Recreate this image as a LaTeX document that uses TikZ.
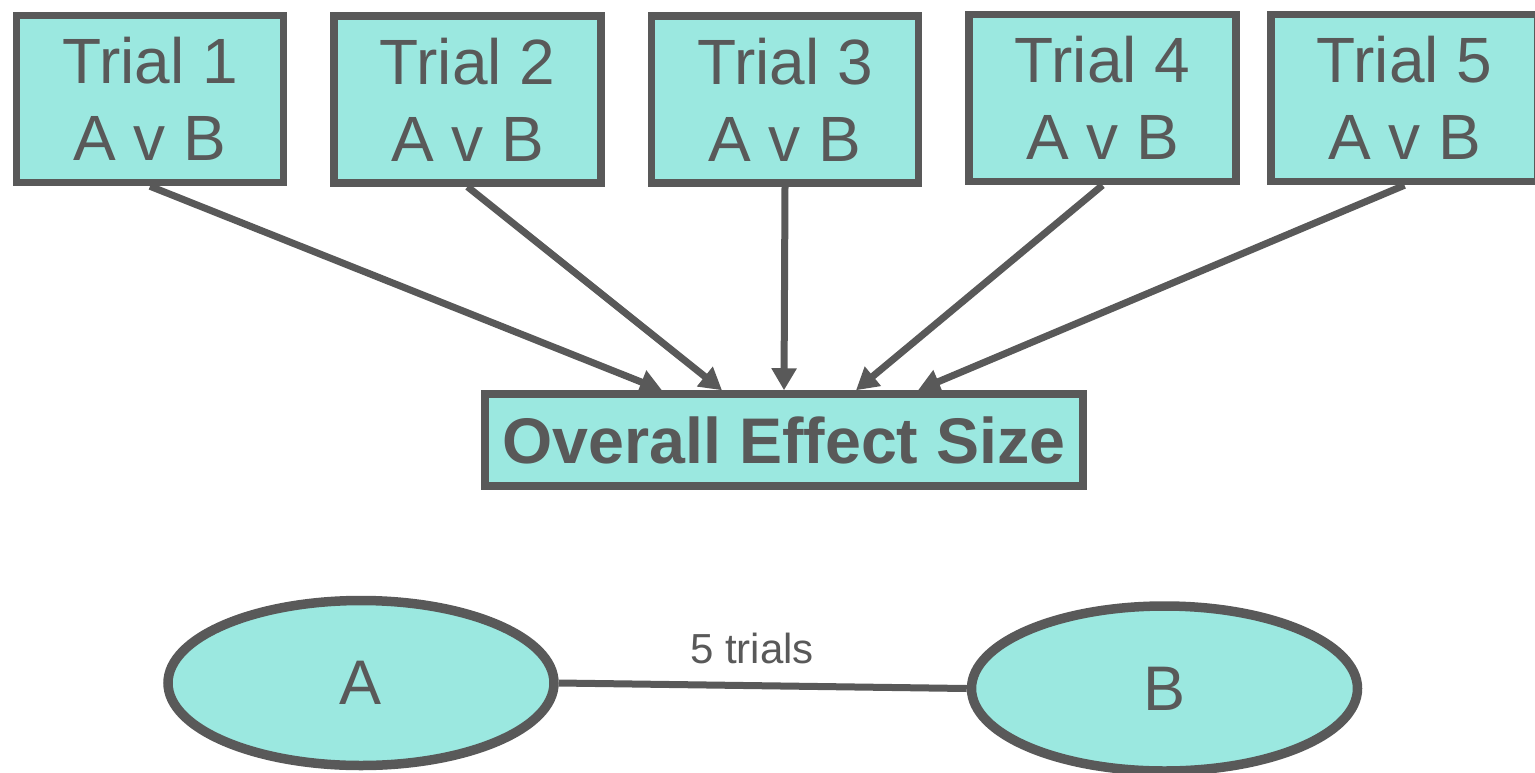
\documentclass[tikz,border=0pt]{standalone}
\usepackage{fontspec}
\setmainfont{Liberation Sans}
\usetikzlibrary{arrows.meta,shapes.geometric}
\definecolor{boxfill}{HTML}{9BE8E0}
\definecolor{ink}{HTML}{595959}
\tikzset{
  trialbox/.style={draw=ink, fill=boxfill, line width=7.5pt, rectangle,
    minimum width=267pt, minimum height=167pt, inner sep=0pt, align=center,
    text=ink, font=\fontsize{64}{77}\selectfont},
  effectbox/.style={draw=ink, fill=boxfill, line width=7.5pt, rectangle,
    minimum width=598pt, minimum height=92pt, inner sep=0pt,
    text=ink, font=\fontsize{64.5}{70}\selectfont\bfseries},
  armnode/.style={draw=ink, fill=boxfill, line width=9.5pt, ellipse,
    minimum width=386pt, minimum height=165pt, inner sep=0pt,
    text=ink, font=\fontsize{63}{70}\selectfont},
  feed/.style={draw=ink, line width=7pt, -{Triangle[length=22pt,width=24pt]}},
  link/.style={draw=ink, line width=7pt},
  edgelabel/.style={text=ink, font=\fontsize{42}{50}\selectfont}
}
\begin{document}
\begin{tikzpicture}[x=1pt,y=-1pt]
  \useasboundingbox (0,0) rectangle (1535,772);
  % individual trials
  \node[trialbox] (t1) at (150,99) {Trial 1\\A v B};
  \node[trialbox] (t2) at (467.5,99.5) {Trial 2\\A v B};
  \node[trialbox] (t3) at (785,99.5) {Trial 3\\A v B};
  \node[trialbox] (t4) at (1102.5,98) {Trial 4\\A v B};
  \node[trialbox] (t5) at (1404.5,98) {Trial 5\\A v B};
  % pooled result
  \node[effectbox] (oes) at (784,440) {Overall Effect Size};
  \coordinate (e1) at ([xshift=-122pt]oes.north);
  \coordinate (e2) at ([xshift=-62pt]oes.north);
  \coordinate (e3) at (oes.north);
  \coordinate (e4) at ([xshift=72pt]oes.north);
  \coordinate (e5) at ([xshift=134pt]oes.north);
  \draw[feed] (t1.south) -- (e1);
  \draw[feed] (t2.south) -- (e2);
  \draw[feed] (t3.south) -- (e3);
  \draw[feed] (t4.south) -- (e4);
  \draw[feed] (t5.south) -- (e5);
  % network of treatments
  \node[armnode] (a) at (361,683) {A};
  \node[armnode] (b) at (1164.5,688.5) {B};
  \draw[link] (a.east) -- (b.west);
  \node[edgelabel] (lbl) at (752,648) {5 trials};
\end{tikzpicture}
\end{document}
